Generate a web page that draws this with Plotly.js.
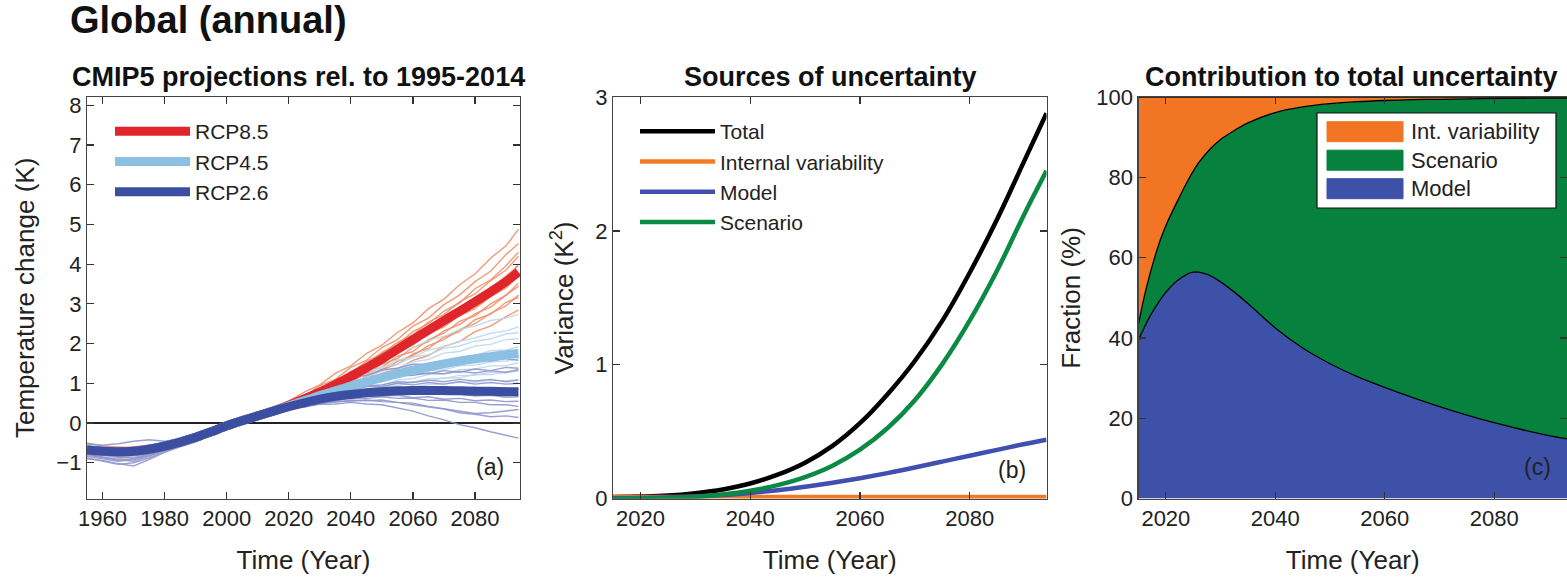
<!DOCTYPE html>
<html>
<head>
<meta charset="utf-8">
<script src="https://cdn.plot.ly/plotly-3.0.1.min.js"></script>
<style>html,body{margin:0;padding:0;background:#fff;}#chart{width:1567px;height:579px;}</style>
</head>
<body>
<div id="chart"></div>
<script>
// ---------- Panel (a): CMIP5 projections ----------
const yearsA = [1955,1960,1965,1970,1975,1980,1985,1990,1995,2000,2005,2010,2015,2020,2025,2030,2035,2040,2045,2050,2055,2060,2065,2070,2075,2080,2085,2090,2094];

const meanRCP85 = [-0.68,-0.71,-0.72,-0.71,-0.66,-0.58,-0.48,-0.36,-0.22,-0.07,0.06,0.18,0.30,0.45,0.61,0.78,0.97,1.17,1.39,1.61,1.85,2.10,2.34,2.58,2.81,3.05,3.30,3.56,3.80];
const meanRCP45 = [-0.68,-0.71,-0.72,-0.71,-0.66,-0.58,-0.48,-0.36,-0.22,-0.07,0.06,0.18,0.30,0.43,0.56,0.69,0.81,0.93,1.04,1.14,1.24,1.33,1.41,1.49,1.56,1.62,1.67,1.72,1.75];
const meanRCP26 = [-0.68,-0.71,-0.72,-0.71,-0.66,-0.58,-0.48,-0.36,-0.22,-0.07,0.06,0.18,0.30,0.41,0.51,0.60,0.67,0.72,0.76,0.79,0.81,0.82,0.82,0.82,0.81,0.80,0.80,0.79,0.79];

const membersRCP85 = [
  [-0.55,-0.62,-0.70,-0.66,-0.60,-0.55,-0.42,-0.30,-0.20,-0.02,0.10,0.25,0.38,0.55,0.78,0.96,1.25,1.44,1.75,1.96,2.28,2.52,2.88,3.12,3.48,3.75,4.15,4.46,4.88],
  [-0.75,-0.80,-0.85,-0.80,-0.70,-0.62,-0.55,-0.40,-0.28,-0.10,0.02,0.15,0.30,0.52,0.68,0.94,1.10,1.40,1.58,1.90,2.10,2.44,2.64,2.98,3.22,3.56,3.82,4.24,4.52],
  [-0.60,-0.68,-0.72,-0.75,-0.65,-0.52,-0.50,-0.33,-0.18,-0.05,0.08,0.20,0.34,0.46,0.68,0.83,1.08,1.26,1.55,1.74,2.03,2.22,2.54,2.73,3.05,3.25,3.58,3.85,4.20],
  [-0.78,-0.74,-0.78,-0.70,-0.72,-0.60,-0.45,-0.38,-0.25,-0.09,0.05,0.14,0.28,0.45,0.58,0.82,0.96,1.22,1.40,1.68,1.88,2.15,2.35,2.65,2.85,3.15,3.38,3.70,3.96],
  [-0.50,-0.58,-0.60,-0.62,-0.58,-0.54,-0.44,-0.34,-0.16,-0.04,0.07,0.22,0.36,0.40,0.60,0.72,0.94,1.10,1.35,1.52,1.79,1.96,2.25,2.42,2.70,2.88,3.18,3.40,3.72],
  [-0.70,-0.76,-0.82,-0.78,-0.74,-0.62,-0.52,-0.40,-0.26,-0.08,0.03,0.16,0.27,0.42,0.53,0.72,0.86,1.08,1.22,1.48,1.62,1.90,2.05,2.32,2.48,2.75,2.92,3.22,3.44],
  [-0.62,-0.66,-0.68,-0.64,-0.62,-0.56,-0.46,-0.32,-0.20,-0.06,0.06,0.19,0.33,0.36,0.54,0.64,0.84,0.96,1.18,1.32,1.55,1.70,1.95,2.10,2.35,2.50,2.76,2.95,3.22],
  [-0.82,-0.86,-0.90,-0.84,-0.76,-0.66,-0.54,-0.42,-0.24,-0.07,0.04,0.17,0.31,0.38,0.46,0.64,0.74,0.94,1.04,1.25,1.36,1.58,1.70,1.93,2.05,2.30,2.44,2.68,2.84],
  [-0.58,-0.64,-0.66,-0.70,-0.66,-0.58,-0.48,-0.36,-0.22,-0.06,0.07,0.21,0.35,0.50,0.66,0.88,1.04,1.30,1.48,1.78,1.98,2.30,2.50,2.82,3.02,3.38,3.60,3.96,4.30],
  [-0.72,-0.70,-0.76,-0.78,-0.70,-0.60,-0.50,-0.38,-0.23,-0.08,0.05,0.18,0.31,0.44,0.62,0.76,0.98,1.16,1.44,1.62,1.92,2.08,2.40,2.56,2.92,3.06,3.42,3.62,4.00],
  [-0.66,-0.72,-0.80,-0.74,-0.68,-0.58,-0.47,-0.35,-0.21,-0.07,0.06,0.20,0.32,0.43,0.58,0.70,0.90,1.02,1.26,1.40,1.68,1.80,2.10,2.26,2.56,2.70,3.00,3.22,3.52],
  [-0.54,-0.60,-0.64,-0.60,-0.56,-0.50,-0.42,-0.30,-0.17,-0.04,0.09,0.23,0.37,0.41,0.50,0.68,0.80,1.00,1.12,1.36,1.48,1.74,1.88,2.16,2.30,2.60,2.74,3.04,3.16]
];
const membersRCP45 = [
  [-0.58,-0.66,-0.72,-0.70,-0.62,-0.50,-0.40,-0.30,-0.16,-0.02,0.10,0.24,0.36,0.52,0.72,0.86,1.08,1.22,1.45,1.56,1.78,1.90,2.08,2.18,2.35,2.44,2.58,2.64,2.74],
  [-0.72,-0.78,-0.80,-0.76,-0.72,-0.64,-0.52,-0.42,-0.26,-0.10,0.02,0.16,0.28,0.47,0.66,0.78,0.98,1.10,1.30,1.38,1.58,1.66,1.84,1.92,2.06,2.14,2.26,2.32,2.42],
  [-0.64,-0.70,-0.74,-0.72,-0.66,-0.56,-0.48,-0.36,-0.20,-0.06,0.06,0.20,0.32,0.46,0.58,0.76,0.86,1.04,1.14,1.30,1.38,1.54,1.60,1.76,1.80,1.94,1.98,2.10,2.12],
  [-0.80,-0.84,-0.88,-0.80,-0.74,-0.66,-0.56,-0.44,-0.28,-0.11,0.01,0.13,0.27,0.42,0.58,0.68,0.84,0.93,1.08,1.16,1.30,1.36,1.50,1.54,1.66,1.70,1.82,1.84,1.92],
  [-0.54,-0.60,-0.64,-0.64,-0.60,-0.52,-0.42,-0.32,-0.18,-0.03,0.08,0.21,0.35,0.42,0.52,0.67,0.76,0.90,0.97,1.10,1.16,1.28,1.32,1.44,1.46,1.56,1.58,1.66,1.68],
  [-0.68,-0.74,-0.78,-0.74,-0.68,-0.60,-0.50,-0.38,-0.22,-0.08,0.04,0.18,0.30,0.38,0.52,0.60,0.74,0.80,0.92,0.96,1.08,1.12,1.22,1.24,1.34,1.36,1.44,1.44,1.52],
  [-0.74,-0.80,-0.84,-0.82,-0.76,-0.64,-0.54,-0.40,-0.26,-0.09,0.03,0.15,0.29,0.38,0.46,0.58,0.65,0.76,0.82,0.92,0.94,1.04,1.06,1.14,1.14,1.22,1.22,1.28,1.30],
  [-0.60,-0.64,-0.70,-0.68,-0.64,-0.58,-0.46,-0.34,-0.20,-0.05,0.07,0.20,0.33,0.34,0.45,0.52,0.62,0.68,0.76,0.80,0.88,0.90,0.97,0.98,1.04,1.02,1.08,1.06,1.10],
  [-0.62,-0.68,-0.74,-0.76,-0.68,-0.58,-0.48,-0.36,-0.21,-0.06,0.06,0.19,0.32,0.48,0.62,0.80,0.92,1.12,1.22,1.40,1.48,1.66,1.72,1.88,1.94,2.06,2.12,2.24,2.28],
  [-0.76,-0.82,-0.86,-0.84,-0.76,-0.66,-0.54,-0.42,-0.27,-0.10,0.02,0.14,0.28,0.44,0.56,0.72,0.80,0.98,1.04,1.20,1.24,1.40,1.42,1.56,1.58,1.70,1.72,1.80,1.84],
  [-0.56,-0.62,-0.66,-0.62,-0.58,-0.52,-0.44,-0.33,-0.19,-0.04,0.08,0.21,0.34,0.40,0.54,0.62,0.78,0.84,0.98,1.04,1.16,1.20,1.32,1.34,1.44,1.46,1.54,1.56,1.62],
  [-0.70,-0.76,-0.80,-0.78,-0.72,-0.62,-0.51,-0.39,-0.24,-0.08,0.04,0.17,0.30,0.36,0.50,0.56,0.70,0.74,0.86,0.90,1.00,1.02,1.12,1.12,1.20,1.20,1.28,1.26,1.34]
];
const membersRCP26 = [
  [-0.66,-0.74,-0.80,-0.76,-0.70,-0.58,-0.48,-0.36,-0.22,-0.06,0.08,0.22,0.35,0.52,0.66,0.86,0.98,1.14,1.20,1.34,1.38,1.48,1.48,1.56,1.54,1.60,1.56,1.62,1.58],
  [-0.84,-0.90,-0.96,-0.92,-0.82,-0.70,-0.58,-0.46,-0.30,-0.12,0.00,0.12,0.26,0.46,0.64,0.74,0.90,0.96,1.08,1.10,1.20,1.20,1.26,1.24,1.30,1.26,1.32,1.28,1.34],
  [-0.52,-0.56,-0.52,-0.46,-0.42,-0.46,-0.40,-0.30,-0.16,-0.02,0.09,0.23,0.37,0.44,0.58,0.68,0.80,0.86,0.94,0.96,1.04,1.02,1.08,1.04,1.10,1.06,1.10,1.04,1.08],
  [-0.78,-0.86,-0.92,-0.96,-0.84,-0.68,-0.56,-0.44,-0.27,-0.10,0.02,0.15,0.28,0.43,0.52,0.65,0.70,0.80,0.82,0.88,0.86,0.92,0.88,0.90,0.86,0.90,0.84,0.88,0.85],
  [-0.62,-0.70,-0.78,-0.74,-0.66,-0.60,-0.50,-0.38,-0.21,-0.05,0.07,0.19,0.32,0.40,0.50,0.57,0.66,0.69,0.76,0.74,0.79,0.75,0.76,0.72,0.73,0.68,0.70,0.65,0.66],
  [-0.90,-0.94,-1.02,-1.08,-0.92,-0.74,-0.60,-0.48,-0.30,-0.12,0.01,0.13,0.27,0.39,0.46,0.54,0.57,0.63,0.62,0.66,0.62,0.63,0.57,0.58,0.52,0.52,0.46,0.46,0.42],
  [-0.70,-0.76,-0.84,-0.82,-0.76,-0.64,-0.52,-0.40,-0.24,-0.08,0.04,0.17,0.30,0.35,0.44,0.48,0.55,0.55,0.58,0.54,0.52,0.46,0.40,0.35,0.26,0.22,0.16,0.18,0.14],
  [-0.74,-0.80,-0.86,-0.88,-0.78,-0.66,-0.54,-0.42,-0.25,-0.09,0.03,0.16,0.29,0.36,0.40,0.47,0.48,0.52,0.48,0.46,0.38,0.30,0.18,0.08,-0.04,-0.12,-0.22,-0.30,-0.38],
  [-0.60,-0.66,-0.72,-0.70,-0.64,-0.55,-0.46,-0.35,-0.20,-0.05,0.07,0.20,0.33,0.48,0.60,0.78,0.88,1.00,1.06,1.16,1.18,1.26,1.24,1.32,1.28,1.36,1.32,1.40,1.38],
  [-0.88,-0.96,-1.04,-1.00,-0.88,-0.72,-0.58,-0.46,-0.29,-0.11,0.01,0.14,0.27,0.42,0.56,0.66,0.78,0.82,0.92,0.92,1.00,0.96,1.02,0.98,1.04,0.98,1.02,0.98,1.00],
  [-0.68,-0.74,-0.80,-0.80,-0.72,-0.62,-0.51,-0.39,-0.23,-0.07,0.05,0.18,0.31,0.38,0.48,0.56,0.64,0.66,0.70,0.68,0.70,0.64,0.66,0.60,0.62,0.56,0.58,0.54,0.55],
  [-0.80,-0.86,-0.94,-0.90,-0.80,-0.68,-0.55,-0.43,-0.26,-0.10,0.02,0.15,0.28,0.37,0.42,0.50,0.52,0.58,0.56,0.58,0.52,0.50,0.42,0.36,0.30,0.24,0.26,0.30,0.34]
];

// ---------- Panel (b): Sources of uncertainty (variance, K^2) ----------
const yearsB = [2015,2020,2025,2030,2035,2040,2045,2050,2055,2060,2065,2070,2075,2080,2085,2090,2094];
const varTotal    = [0.012,0.015,0.022,0.040,0.068,0.112,0.178,0.268,0.393,0.563,0.778,1.028,1.328,1.688,2.088,2.528,2.880];
const varInternal = [0.012,0.012,0.012,0.012,0.012,0.012,0.012,0.012,0.012,0.012,0.012,0.012,0.012,0.012,0.012,0.012,0.012];
const varModel    = [0.002,0.004,0.008,0.015,0.026,0.042,0.062,0.088,0.118,0.152,0.190,0.232,0.276,0.320,0.364,0.408,0.440];
const varScenario = [0.000,0.001,0.004,0.012,0.030,0.058,0.100,0.160,0.245,0.365,0.525,0.735,1.005,1.330,1.705,2.130,2.450];

// ---------- Panel (c): Contribution to total uncertainty (%) ----------
const yearsC = [2015,2016,2017,2018,2019,2020,2022,2024,2025,2026,2028,2030,2032,2035,2040,2045,2050,2055,2060,2065,2070,2075,2080,2085,2090,2094];
const fracModel    = [39.5,42.5,45.2,47.5,49.6,51.4,54.2,56.0,56.4,56.4,55.6,54.0,52.0,48.6,42.5,37.5,33.6,30.4,27.7,25.2,22.9,20.8,18.9,17.2,15.7,14.7];
const fracScenario = [4.0,7.5,10.3,12.8,14.9,16.6,19.6,23.2,25.2,27.3,31.4,35.5,39.3,45.0,53.7,60.1,64.8,68.5,71.5,74.2,76.6,78.8,80.8,82.55,84.1,85.1];
const fracInternal = [56.5,50.0,44.5,39.7,35.5,32.0,26.2,20.8,18.4,16.3,13.0,10.5,8.7,6.4,3.8,2.4,1.6,1.1,0.8,0.6,0.5,0.4,0.3,0.25,0.2,0.2];
const legendC = ['Int. variability', 'Scenario', 'Model'];

const yearTicksA = [1960,1980,2000,2020,2040,2060,2080];
const yearTicksBC = [2020,2040,2060,2080];

// ---------- styling ----------
const FONT = 'Liberation Sans, Arial, Helvetica, sans-serif';
const C = {
  r85m: '#f0906c', r45m: '#bcd8ec', r26m: '#8f96cc',
  r85: '#e0262a', r45: '#8cc0e2', r26: '#3b4ea1',
  total: '#000000', internal: '#f07a26', model: '#4150b0', scenario: '#0b8a44',
  fInt: '#f27524', fScen: '#06813e', fModel: '#3e51a8'
};

const traces = [];
function addMembers(set, color) {
  set.forEach(m => traces.push({x: yearsA, y: m, type: 'scatter', mode: 'lines',
    line: {color: color, width: 1.4}, opacity: 0.9, showlegend: false, hoverinfo: 'skip',
    xaxis: 'x', yaxis: 'y'}));
}
addMembers(membersRCP85, C.r85m);
addMembers(membersRCP45, C.r45m);
addMembers(membersRCP26, C.r26m);
[['RCP8.5', meanRCP85, C.r85], ['RCP4.5', meanRCP45, C.r45], ['RCP2.6', meanRCP26, C.r26]].forEach(([n, v, c]) => {
  traces.push({x: yearsA, y: v, name: n, type: 'scatter', mode: 'lines',
    line: {color: c, width: 9, shape: 'spline', smoothing: 0.6}, xaxis: 'x', yaxis: 'y', legend: 'legend'});
});

[['Total', varTotal, C.total], ['Internal variability', varInternal, C.internal], ['Model', varModel, C.model], ['Scenario', varScenario, C.scenario]].forEach(([n, v, c]) => {
  traces.push({x: yearsB, y: v, name: n, type: 'scatter', mode: 'lines',
    line: {color: c, width: 4.5, shape: 'spline', smoothing: 1}, xaxis: 'x2', yaxis: 'y2', legend: 'legend2'});
});

const stackC = [['Model', fracModel, C.fModel], ['Scenario', fracScenario, C.fScen], ['Int. variability', fracInternal, C.fInt]];
stackC.forEach(([n, v, c]) => {
  traces.push({x: yearsC, y: v, name: n, type: 'scatter', mode: 'lines', stackgroup: 'c',
    fillcolor: c, line: {color: '#000', width: 1.3, shape: 'spline', smoothing: 0.8},
    xaxis: 'x3', yaxis: 'y3', showlegend: false});
});

const tickFont = {family: FONT, size: 22, color: '#222'};
const titleFont = {family: FONT, size: 26, color: '#222'};
function xax(domain, range, tickvals) {
  return {domain: domain, range: range, tickvals: tickvals, ticks: 'inside', ticklen: 7, tickwidth: 1.2,
    tickcolor: '#333', showline: true, linecolor: '#444', linewidth: 1.2, mirror: 'ticks',
    showgrid: false, zeroline: false, tickfont: tickFont,
    title: {text: 'Time (Year)', font: titleFont, standoff: 20}};
}
function yax(domain, range, tickvals, title, anchor, standoff) {
  return {domain: domain, range: range, tickvals: tickvals, ticks: 'inside', ticklen: 7, tickwidth: 1.2,
    tickcolor: '#333', showline: true, linecolor: '#444', linewidth: 1.2, mirror: 'ticks',
    showgrid: false, zeroline: false, tickfont: tickFont, anchor: anchor,
    title: {text: title, font: titleFont, standoff: standoff}};
}
const W = 1567, H = 579;
const yd = [0.139, 0.832];
const px = v => v / W, py = v => 1 - v / H;

const legendBase = {font: {family: FONT, size: 21, color: '#222'}, bgcolor: 'rgba(0,0,0,0)',
  borderwidth: 0, itemwidth: 75, xanchor: 'left', yanchor: 'top', tracegroupgap: 0, traceorder: 'normal'};

// panel (c) legend drawn as box + swatches + labels
const legendCColors = [C.fInt, C.fScen, C.fModel];
const legendCRows = [131.7, 160.2, 188.7];
const shapes = [
  {type: 'rect', xref: 'paper', yref: 'paper', x0: px(1317), x1: px(1556), y0: py(208), y1: py(113),
    fillcolor: '#ffffff', line: {color: '#111', width: 1.2}, layer: 'above'}
];
const annotations = [
  {text: '<b>Global (annual)</b>', xref: 'paper', yref: 'paper', x: px(68), y: py(20),
    xanchor: 'left', yanchor: 'middle', showarrow: false, font: {family: FONT, size: 38, color: '#111'}},
  {text: '<b>CMIP5 projections rel. to 1995-2014</b>', xref: 'paper', yref: 'paper', x: px(298), y: py(77),
    xanchor: 'center', yanchor: 'middle', showarrow: false, font: {family: FONT, size: 27, color: '#111'}},
  {text: '<b>Sources of uncertainty</b>', xref: 'paper', yref: 'paper', x: px(830), y: py(77),
    xanchor: 'center', yanchor: 'middle', showarrow: false, font: {family: FONT, size: 27, color: '#111'}},
  {text: '<b>Contribution to total uncertainty</b>', xref: 'paper', yref: 'paper', x: px(1351), y: py(77),
    xanchor: 'center', yanchor: 'middle', showarrow: false, font: {family: FONT, size: 27, color: '#111'}},
  {text: '(a)', xref: 'paper', yref: 'paper', x: px(490), y: py(467), xanchor: 'center', yanchor: 'middle',
    showarrow: false, font: {family: FONT, size: 23, color: '#222'}},
  {text: '(b)', xref: 'paper', yref: 'paper', x: px(1012), y: py(470), xanchor: 'center', yanchor: 'middle',
    showarrow: false, font: {family: FONT, size: 23, color: '#222'}},
  {text: '(c)', xref: 'paper', yref: 'paper', x: px(1537), y: py(467), xanchor: 'center', yanchor: 'middle',
    showarrow: false, font: {family: FONT, size: 23, color: '#222'}}
];
legendC.forEach((label, i) => {
  const yc = legendCRows[i];
  shapes.push({type: 'rect', xref: 'paper', yref: 'paper', x0: px(1327), x1: px(1403), y0: py(yc + 10), y1: py(yc - 10),
    fillcolor: legendCColors[i], line: {color: legendCColors[i], width: 1}, layer: 'above'});
  annotations.push({text: label, xref: 'paper', yref: 'paper', x: px(1409), y: py(yc), xanchor: 'left', yanchor: 'middle',
    showarrow: false, font: {family: FONT, size: 22, color: '#222'}});
});

const layout = {
  width: W, height: H, margin: {l: 0, r: 0, t: 0, b: 0},
  paper_bgcolor: '#fff', plot_bgcolor: '#fff', font: {family: FONT, color: '#222'},
  xaxis: Object.assign(xax([px(87), px(520)], [1955, 2094.5], yearTicksA), {anchor: 'y'}),
  yaxis: Object.assign(yax(yd, [-1.9, 8.2], [-1,0,1,2,3,4,5,6,7,8], 'Temperature change (K)', 'x', 14),
    {zeroline: true, zerolinecolor: '#222', zerolinewidth: 1.3}),
  xaxis2: Object.assign(xax([px(613), px(1046.5)], [2015, 2094], yearTicksBC), {anchor: 'y2'}),
  yaxis2: yax(yd, [0, 3], [0,1,2,3], 'Variance (K<sup>2</sup>)', 'x2', 14),
  xaxis3: Object.assign(xax([px(1138.5), 1], [2015, 2093.3], yearTicksBC), {anchor: 'y3'}),
  yaxis3: yax(yd, [0, 100], [0,20,40,60,80,100], 'Fraction (%)', 'x3', 8),
  showlegend: true,
  legend: Object.assign({}, legendBase, {x: px(110), y: py(111)}),
  legend2: Object.assign({}, legendBase, {x: px(635), y: py(111)}),
  shapes: shapes,
  annotations: annotations
};

Plotly.newPlot('chart', traces, layout, {displayModeBar: false, staticPlot: true});
</script>
</body>
</html>
